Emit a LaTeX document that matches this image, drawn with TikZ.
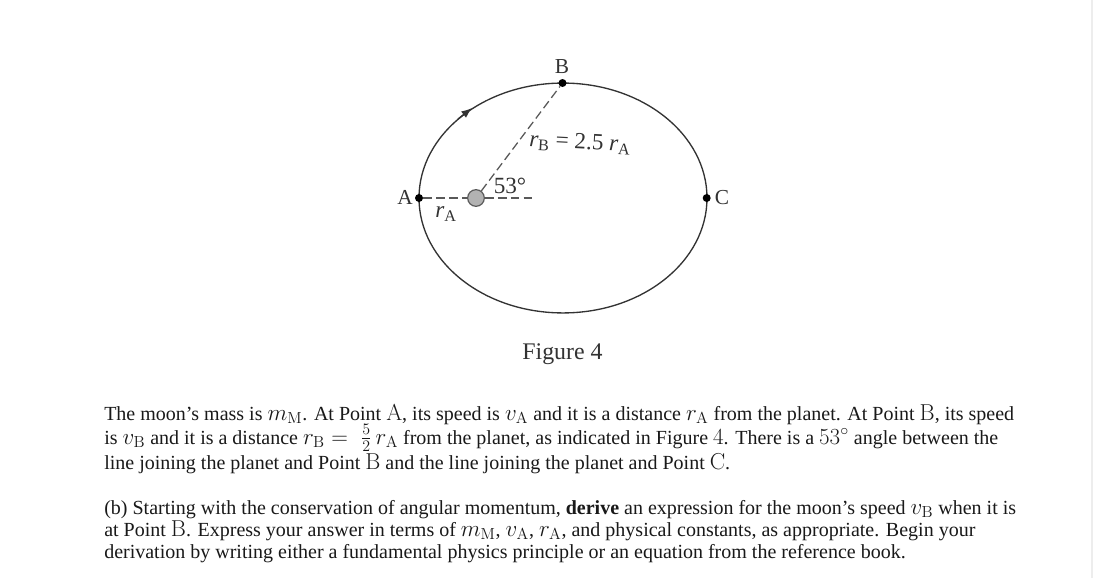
\documentclass[tikz,border=0pt]{standalone}
\usepackage[no-math]{fontspec}
\usepackage{amsmath}
\setmainfont{Liberation Serif}
\usetikzlibrary{arrows.meta}
\newcommand{\mathbig}[1]{{\fontsize{18pt}{18pt}\selectfont$#1$}}
\newcommand{\lr}[1]{$\textit{r}_{\textrm{#1}}$}
\tikzset{
  x=0.75pt,y=-0.75pt,
  orbit/.style={draw=black!80,line width=1pt},
  dashline/.style={draw=black!65,line width=0.95pt,dash pattern=on 6.5pt off 3.2pt},
  pointdot/.style={circle,fill=black,inner sep=0pt,minimum size=6pt},
  planet/.style={circle,draw=black!65,fill=black!30,line width=0.9pt,inner sep=0pt,minimum size=12.5pt},
  lbl/.style={inner sep=0pt,font=\fontsize{17.4pt}{18pt}\selectfont,text=black!80},
  ptlbl/.style={lbl,font=\fontsize{16pt}{18pt}\selectfont},
  bodyline/.style={anchor=base west,inner sep=0pt,font=\fontsize{15pt}{15pt}\selectfont,text=black!90},
}
\begin{document}
\begin{tikzpicture}
\useasboundingbox (0,0) rectangle (1093,578);
\fill[white] (0,0) rectangle (1093,578);
\fill[black!7] (1091,0) rectangle (1093,578);
% orbit
\draw[orbit] (563,198) ellipse [x radius=108pt,y radius=86.2pt];
\coordinate (tailpt) at (458,119);
\coordinate (tippt) at (472,108);
\draw[orbit,-{Latex[length=8pt,width=6pt]}] (tailpt) -- (tippt);
% points
\node[pointdot] (A) at (419,198) {};
\node[pointdot] (B) at (562.5,83) {};
\node[pointdot] (C) at (706.7,198) {};
\node[planet] (P) at (476,198) {};
\coordinate (ray) at (535,198);
\draw[dashline] (A) -- (P);
\draw[dashline] (P) -- (ray);
\draw[dashline] (P) -- (B);
% labels
\node[ptlbl] (lA) at (405,197) {A};
\node[ptlbl] (lB) at (562,67) {B};
\node[ptlbl] (lC) at (722,198) {C};
\node[lbl] (lrA) at (446,214) {\lr{A}};
\node[lbl] (lang) at (510,186) {53°};
\node[lbl,rotate=-3] (lrB) at (580,143) {\lr{B} = 2.5 \lr{A}};
\node[inner sep=0pt,font=\fontsize{17.9pt}{18pt}\selectfont,text=black!80] (fig) at (562.5,354) {Figure 4};
% text
\node[bodyline] (t1) at (104,420) {The moon’s mass is \mathbig{m_{\mathrm{M}}}. At Point \mathbig{\mathrm{A}}, its speed is \mathbig{v_{\mathrm{A}}} and it is a distance \mathbig{r_{\mathrm{A}}} from the planet. At Point \mathbig{\mathrm{B}}, its speed};
\node[bodyline] (t2) at (104,444) {is \mathbig{v_{\mathrm{B}}} and it is a distance \mathbig{r_{\mathrm{B}}=\;\frac{5}{2}\,r_{\mathrm{A}}} from the planet, as indicated in Figure \mathbig{4}. There is a \mathbig{53^{\circ}} angle between the};
\node[bodyline] (t3) at (104,469) {line joining the planet and Point \mathbig{\mathrm{B}} and the line joining the planet and Point \mathbig{\mathrm{C}}.};
\node[bodyline] (t4) at (104,514) {(b) Starting with the conservation of angular momentum, \textbf{derive} an expression for the moon’s speed \mathbig{v_{\mathrm{B}}} when it is};
\node[bodyline] (t5) at (104,536) {at Point \mathbig{\mathrm{B}}. Express your answer in terms of \mathbig{m_{\mathrm{M}}}, \mathbig{v_{\mathrm{A}}}, \mathbig{r_{\mathrm{A}}}, and physical constants, as appropriate. Begin your};
\node[bodyline] (t6) at (104,558) {derivation by writing either a fundamental physics principle or an equation from the reference book.};
\end{tikzpicture}
\end{document}
